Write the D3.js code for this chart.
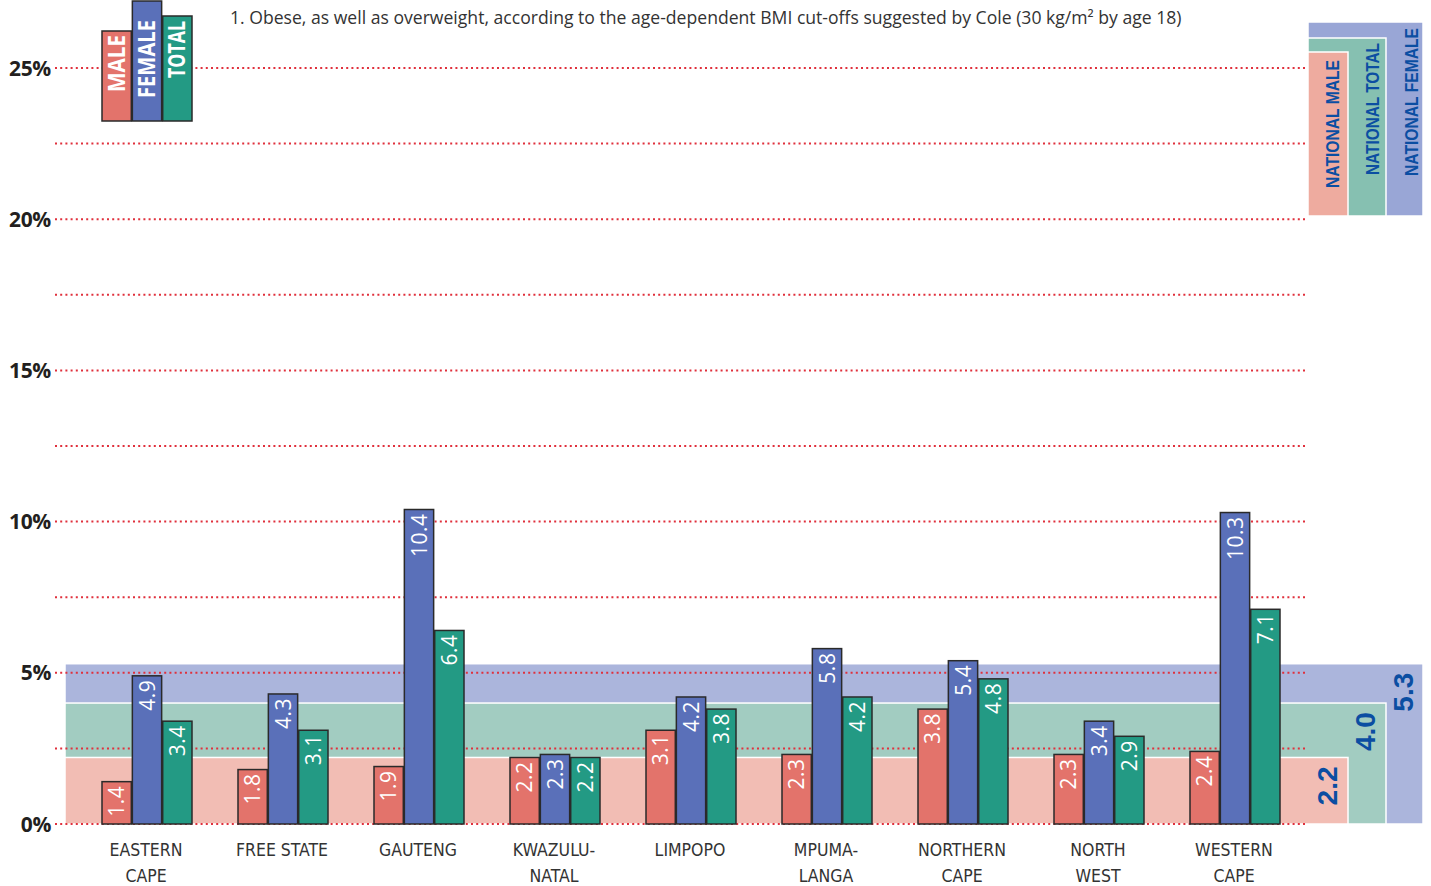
<!DOCTYPE html>
<html><head><meta charset="utf-8">
<script src="https://cdn.jsdelivr.net/npm/d3@7"></script>
<style>
html,body{margin:0;padding:0;background:#fff;}
svg{display:block;}
</style></head>
<body>
<svg id="chart" width="1431" height="886"></svg>
<script>
const categories = [["EASTERN","CAPE"],["FREE STATE"],["GAUTENG"],["KWAZULU-","NATAL"],["LIMPOPO"],["MPUMA-","LANGA"],["NORTHERN","CAPE"],["NORTH","WEST"],["WESTERN","CAPE"]];
const series = ["MALE","FEMALE","TOTAL"];
const male   = [1.4, 1.8, 1.9, 2.2, 3.1, 2.3, 3.8, 2.3, 2.4];
const female = [4.9, 4.3, 10.4, 2.3, 4.2, 5.8, 5.4, 3.4, 10.3];
const total  = [3.4, 3.1, 6.4, 2.2, 3.8, 4.2, 4.8, 2.9, 7.1];
const nationalLabels = ["NATIONAL MALE","NATIONAL TOTAL","NATIONAL FEMALE"];
const nationalValues = [2.2, 4.0, 5.3];
const yTicks = [0, 2.5, 5, 7.5, 10, 12.5, 15, 17.5, 20, 22.5, 25];
const footnote = "1. Obese, as well as overweight, according to the age-dependent BMI cut-offs suggested by Cole (30 kg/m\u00B2 by age 18)";

const colors = {MALE:"#E3736B", FEMALE:"#5A70B9", TOTAL:"#239A84"};
const bandColors = ["#F2BDB4","#A2CCC1","#ABB5DC"];
const legendColors = ["#EEAB9F","#86C0B1","#99A6D6"];
const navy = "#0B4EA2";
const narrow = "'DejaVu Sans Condensed',sans-serif";

const svg = d3.select("#chart");
const y = d3.scaleLinear().domain([0,25]).range([824,68]);
const catKeys = categories.map(c => c.join(" "));
const x = d3.scaleBand().domain(catKeys).range([78,1302]);
const xs = d3.scaleBand().domain(series).range([24,114]).paddingInner(0.035);

const data = catKeys.map((k,i) => ({key:k, label:categories[i], values:[male[i],female[i],total[i]]}));

// National bands (drawn back to front: female, total, male)
const bandRight = [1348, 1386, 1423];
const bandLeft = 65;
[2,1,0].forEach(j => {
  svg.append("rect")
    .attr("x", bandLeft).attr("y", y(nationalValues[j]))
    .attr("width", bandRight[j]-bandLeft).attr("height", y(0)-y(nationalValues[j]))
    .attr("fill", bandColors[j]).attr("stroke","#fff").attr("stroke-width",1.5);
});

// Gridlines
svg.append("g").selectAll("line").data(yTicks).join("line")
  .attr("x1",55).attr("x2",1305)
  .attr("y1",d=>y(d)).attr("y2",d=>y(d))
  .attr("stroke","#E0303C").attr("stroke-width",2).attr("stroke-dasharray","2 3.2");

// Y labels
svg.append("g").selectAll("text").data(yTicks.filter(d=>d%5===0)).join("text")
  .attr("x",51).attr("y",d=>y(d)+7.5)
  .attr("text-anchor","end")
  .attr("font-family","'Open Sans','DejaVu Sans',sans-serif").attr("font-weight","bold")
  .attr("font-size",21).attr("fill","#231F20").attr("letter-spacing",-0.3)
  .text(d=>d+"%");

// Bars
const groups = svg.append("g").selectAll("g").data(data).join("g")
  .attr("transform", d=>`translate(${x(d.key)},0)`);
groups.selectAll("rect").data(d=>d.values.map((v,j)=>({s:series[j],v}))).join("rect")
  .attr("x", d=>xs(d.s)).attr("width", xs.bandwidth())
  .attr("y", d=>y(d.v)).attr("height", d=>y(0)-y(d.v))
  .attr("fill", d=>colors[d.s]).attr("stroke","#2a2a2a").attr("stroke-width",1.5);
groups.selectAll("text.val").data(d=>d.values.map((v,j)=>({s:series[j],v}))).join("text")
  .attr("class","val")
  .attr("transform", d=>`translate(${xs(d.s)+xs.bandwidth()/2+7.5},${y(d.v)+4}) rotate(-90)`)
  .attr("text-anchor","end")
  .attr("font-family","'Open Sans','Noto Sans',sans-serif").attr("font-size",21)
  .attr("fill","#fff").attr("letter-spacing",0.5)
  .text(d=>d.v.toFixed(1));

// X labels
groups.each(function(d){
  const t = d3.select(this).append("text")
    .attr("text-anchor","middle")
    .attr("font-family",narrow)
    .attr("font-size",17.5).attr("fill","#333");
  d.label.forEach((l,i)=>{
    t.append("tspan").attr("x",x.bandwidth()/2).attr("y",856+i*26).text(l);
  });
});

// Top-left legend
const legTops = [31,1,16];
const legTextTop = [35,20,21];
const legTextLen = [57,78,57];
const lg = svg.append("g").attr("transform",`translate(${x(catKeys[0])},0)`);
series.forEach((s,j)=>{
  lg.append("rect").attr("x",xs(s)).attr("width",xs.bandwidth())
    .attr("y",legTops[j]).attr("height",121-legTops[j])
    .attr("fill",colors[s]).attr("stroke","#2a2a2a").attr("stroke-width",1.5);
  lg.append("text")
    .attr("transform",`translate(${xs(s)+xs.bandwidth()/2+8},${legTextTop[j]+legTextLen[j]}) rotate(-90)`)
    .attr("font-family","'Open Sans','Noto Sans',sans-serif").attr("font-weight","bold")
    .attr("font-size",23).attr("fill","#fff")
    .attr("textLength",legTextLen[j]).attr("lengthAdjust","spacingAndGlyphs")
    .text(s);
});

// Footnote
svg.append("text").attr("x",230).attr("y",24)
  .attr("font-family","'Open Sans','Noto Sans',sans-serif").attr("font-size",17.6)
  .attr("fill","#333").text(footnote);

// Top-right national legend
const legTopsR = [52,38,22];
[2,1,0].forEach(j=>{
  svg.append("rect").attr("x",1308).attr("y",legTopsR[j])
    .attr("width",bandRight[j]-1308).attr("height",216-legTopsR[j])
    .attr("fill",legendColors[j]).attr("stroke","#fff").attr("stroke-width",1.5);
});
const legTextX = [1339,1378.5,1417.5];
const legTextY = [188,175,176];
const legTextLenR = [128,132,148];
nationalLabels.forEach((l,j)=>{
  svg.append("text")
    .attr("transform",`translate(${legTextX[j]},${legTextY[j]}) rotate(-90)`)
    .attr("font-family","'Liberation Sans',Arial,sans-serif").attr("font-weight","bold")
    .attr("font-size",18).attr("fill",navy)
    .attr("textLength",legTextLenR[j]).attr("lengthAdjust","spacingAndGlyphs")
    .text(l);
});

// National values
const nvX = [1337,1375,1413];
nationalValues.forEach((v,j)=>{
  svg.append("text")
    .attr("transform",`translate(${nvX[j]},${y(v)+9}) rotate(-90)`)
    .attr("text-anchor","end")
    .attr("font-family","'Liberation Sans',Arial,sans-serif").attr("font-weight","bold")
    .attr("font-size",28).attr("fill",navy).text(v.toFixed(1));
});
</script>
</body></html>
